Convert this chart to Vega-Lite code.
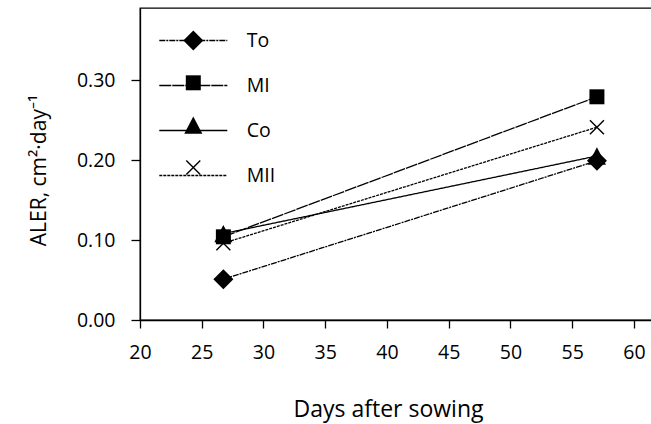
{
  "$schema": "https://vega.github.io/schema/vega-lite/v6.json",
  "width": 512,
  "height": 312,
  "autosize": {"type": "none"},
  "padding": {"left": 140, "top": 8, "right": 0, "bottom": 104},
  "background": "white",
  "config": {
    "font": "Open Sans",
    "view": {"stroke": "black", "strokeWidth": 1.3},
    "axis": {
      "grid": false,
      "domainColor": "black",
      "domainWidth": 1.3,
      "tickColor": "black",
      "tickWidth": 1.3,
      "labelColor": "black",
      "titleColor": "black",
      "labelFont": "Open Sans",
      "titleFont": "Open Sans",
      "labelFontSize": 19.5,
      "labelFlush": false,
      "titleFontWeight": "normal"
    },
    "legend": {"labelFont": "Open Sans", "labelColor": "black", "padding": 0}
  },
  "data": {
    "values": [
      {"series": "Co", "day": 26.75, "aler": 0.108},
      {"series": "Co", "day": 57.0, "aler": 0.205},
      {"series": "MII", "day": 26.75, "aler": 0.096},
      {"series": "MII", "day": 57.0, "aler": 0.241},
      {"series": "MI", "day": 26.75, "aler": 0.104},
      {"series": "MI", "day": 57.0, "aler": 0.279},
      {"series": "To", "day": 26.75, "aler": 0.051},
      {"series": "To", "day": 57.0, "aler": 0.199}
    ]
  },
  "encoding": {
    "x": {
      "field": "day",
      "type": "quantitative",
      "scale": {"domain": [20, 61.46], "nice": false, "zero": false},
      "axis": {
        "title": "Days after sowing",
        "values": [20, 25, 30, 35, 40, 45, 50, 55, 60],
        "tickSize": 8,
        "labelPadding": 15,
        "titleFontSize": 23,
        "titleX": 248,
        "titleY": 96,
        "titleBaseline": "alphabetic"
      }
    },
    "y": {
      "field": "aler",
      "type": "quantitative",
      "scale": {"domain": [0, 0.39], "nice": false},
      "axis": {
        "title": "ALER, cm²·day⁻¹",
        "values": [0, 0.1, 0.2, 0.3],
        "format": ".2f",
        "tickSize": 9,
        "labelPadding": 16,
        "titleFontSize": 21,
        "titleX": -95,
        "titleY": 162,
        "titleBaseline": "alphabetic"
      }
    }
  },
  "layer": [
    {
      "mark": {"type": "line", "color": "black", "strokeWidth": 1.3},
      "encoding": {
        "strokeDash": {
          "field": "series",
          "type": "nominal",
          "scale": {
            "domain": ["To", "MI", "Co", "MII"],
            "range": [[6, 1, 2, 1], [12, 1], [1, 0], [3, 1]]
          },
          "legend": {
            "title": null,
            "orient": "none",
            "legendX": 18.3,
            "legendY": -2.5,
            "symbolType": "stroke",
            "symbolSize": 4624,
            "symbolStrokeColor": "black",
            "symbolStrokeWidth": 1.3,
            "labelFontSize": 19.5,
            "labelOffset": 18.4,
            "rowPadding": -1.7
          }
        }
      }
    },
    {
      "mark": {"type": "point", "filled": true, "color": "black", "strokeWidth": 0, "size": 196, "opacity": 1},
      "encoding": {
        "shape": {
          "field": "series",
          "type": "nominal",
          "sort": ["To", "MI", "Co", "MII"],
          "scale": {
            "range": [
              "M-1.43,0L0,-1.43L1.43,0L0,1.43Z",
              "M-1.07,-1.07L1.07,-1.07L1.07,1.07L-1.07,1.07Z",
              "M0,-1.24L1.29,1.24L-1.29,1.24Z",
              "M-0.93,-1.07L1.07,0.93L0.93,1.07L-1.07,-0.93ZM-0.93,1.07L-1.07,0.93L0.93,-1.07L1.07,-0.93Z"
            ]
          },
          "legend": {
            "title": null,
            "orient": "none",
            "legendX": 43.55,
            "legendY": 22.75,
            "symbolSize": 196,
            "symbolFillColor": "black",
            "symbolStrokeWidth": 0,
            "symbolOpacity": 1,
            "labelFontSize": 19.5,
            "labelOpacity": 0,
            "rowPadding": 21.3
          }
        }
      }
    }
  ]
}
